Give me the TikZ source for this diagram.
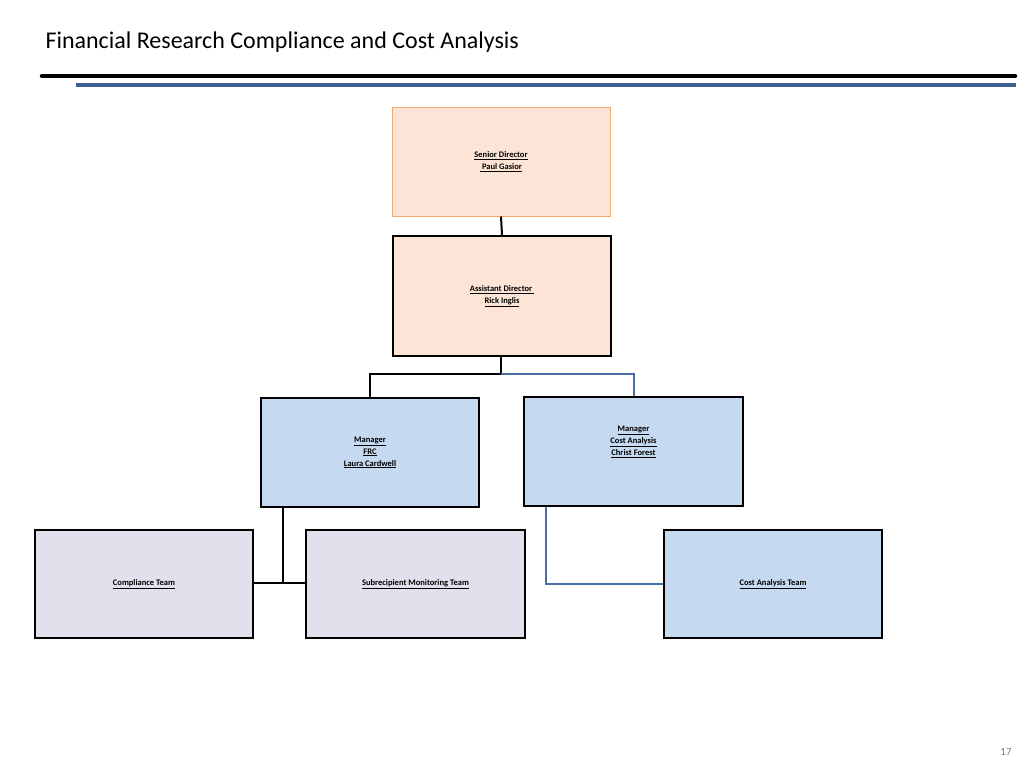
\documentclass[tikz,border=0pt]{standalone}
\usepackage{fontspec}
\setmainfont{Carlito}
\definecolor{peach}{RGB}{252,228,214}
\definecolor{lblue}{RGB}{197,217,240}
\definecolor{lav}{RGB}{228,223,236}
\definecolor{conblue}{RGB}{70,110,165}
\definecolor{rulblue}{RGB}{59,95,143}
\definecolor{orng}{RGB}{240,170,110}
\begin{document}
\begin{tikzpicture}[x=1pt,y=-1pt,
  box/.style={draw=black,line width=2.2pt,align=center,font=\fontsize{8.5}{12}\selectfont\bfseries,inner sep=0pt},
  blk/.style={draw=black,line width=2pt},
  blu/.style={draw=conblue,line width=2pt}]
\useasboundingbox (0,0) rectangle (1024,768);
\fill[white] (0,0) rectangle (1024,768);
\node[anchor=west,font=\fontsize{24}{28}\selectfont] (title) at (42,42) {Financial Research Compliance and Cost Analysis};
\draw[line width=4.5pt,black,line cap=round] (42,76) -- (1015,76);
\draw[line width=3.5pt,rulblue] (76,85) -- (1016,85);
\node[box,draw=orng,line width=1pt,fill=peach,minimum width=218pt,minimum height=109pt] (sd) at (501,161.5) {\underline{Senior Director}\\\underline{ Paul Gasior}};
\node[box,fill=peach,minimum width=218pt,minimum height=120pt] (ad) at (502,296) {\underline{Assistant Director }\\\underline{Rick Inglis}};
\node[box,fill=lblue,minimum width=218pt,minimum height=109pt] (frc) at (370,452.5) {\underline{Manager}\\\underline{FRC}\\\underline{Laura Cardwell}};
\node[box,fill=lblue,minimum width=219pt,minimum height=109pt] (ca) at (633.5,451.5) {\underline{Manager}\\\underline{Cost Analysis}\\\underline{Christ Forest}\\[10pt]};
\node[box,fill=lav,minimum width=218pt,minimum height=108pt] (ct) at (144,584) {\underline{Compliance Team}};
\node[box,fill=lav,minimum width=219pt,minimum height=108pt] (sm) at (415.5,584) {\underline{Subrecipient Monitoring Team}};
\node[box,fill=lblue,minimum width=218pt,minimum height=108pt] (cat) at (773,584) {\underline{Cost Analysis Team}};
\node[font=\fontsize{11}{13}\selectfont,text=gray] (pg) at (1006,752) {17};
\coordinate (j1) at (501,374);
\draw[blk] (sd.south) -- (ad.north);
\draw[blk] (ad.south -| j1) -- (j1) -| (frc.north);
\draw[blu] (j1) -| (ca.north);
\coordinate (f1) at (283,583);
\draw[blk] (frc.south -| f1) -- (f1);
\draw[blk] (ct.east |- f1) -- (sm.west |- f1);
\coordinate (c1) at (546,584);
\draw[blu] (ca.south -| c1) -- (c1) -- (cat.west |- c1);
\end{tikzpicture}
\end{document}
